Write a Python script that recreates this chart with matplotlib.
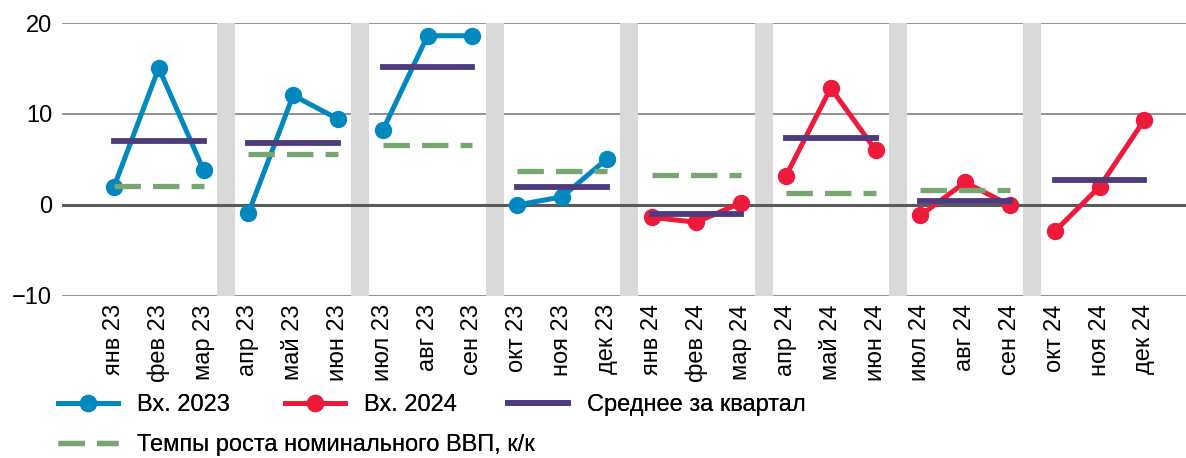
import numpy as np
import matplotlib.pyplot as plt
from matplotlib.lines import Line2D

plt.rcParams['font.family'] = ['Liberation Sans', 'DejaVu Sans']

# data
months = ['янв 23', 'фев 23', 'мар 23', 'апр 23', 'май 23', 'июн 23',
          'июл 23', 'авг 23', 'сен 23', 'окт 23', 'ноя 23', 'дек 23',
          'янв 24', 'фев 24', 'мар 24', 'апр 24', 'май 24', 'июн 24',
          'июл 24', 'авг 24', 'сен 24', 'окт 24', 'ноя 24', 'дек 24']
inflow_2023 = [2.0, 15.05, 3.85, -0.9, 12.05, 9.45, 8.2, 18.6, 18.6, 0.0, 0.9, 5.05]
inflow_2024 = [-1.35, -1.9, 0.25, 3.2, 12.85, 6.05, -1.15, 2.5, -0.05, -2.9, 2.0, 9.35]
quarter_avg = [7.0, 6.85, 15.15, 2.0, -1.0, 7.35, 0.45, 2.8]
gdp_qq = [2.05, 5.65, 6.55, 3.7, 3.35, 1.35, 1.6]

c_blue = '#0088bf'
c_red = '#ee1a3b'
c_purple = '#4d3b7d'
c_green = '#78a671'
c_band = '#d9d9d9'

fs = 17

fig = plt.figure(figsize=(11.86, 4.58), dpi=100)
ax = fig.add_axes([62 / 1186, 1 - 296 / 458, 1 - 62 / 1186, 273 / 458])

x = np.arange(len(months))

# grid
for yv in [-10, 10, 20]:
    ax.axhline(yv, color='#8a8a8a', lw=1.3, zorder=0.5)
ax.axhline(0, color='#5a5a5a', lw=2.2, zorder=2)

# grey separators between quarters
for q in range(1, 8):
    ax.axvspan(3 * q - 0.5 - 0.2, 3 * q - 0.5 + 0.2, ymin=0, ymax=1,
               color=c_band, lw=0, zorder=1)

line_kw = dict(lw=3.6, marker='o', ms=11.5, zorder=4, solid_capstyle='round')
for q in range(4):
    sl = slice(3 * q, 3 * q + 3)
    ax.plot(x[sl], inflow_2023[sl], color=c_blue, **line_kw)
    ax.plot(x[sl] + 12, inflow_2024[sl], color=c_red, **line_kw)

for q, v in enumerate(quarter_avg):
    ax.plot([3 * q, 3 * q + 2], [v, v], color=c_purple, lw=4.2,
            solid_capstyle='projecting', zorder=5)

for q, v in enumerate(gdp_qq):
    ln, = ax.plot([3 * q, 3 * q + 2], [v, v], color=c_green, lw=3.8, zorder=5,
                  dash_capstyle='butt')
    ln.set_dashes([5.0, 2.3])

ax.set_xlim(-1.16, 23.93)
ax.set_ylim(-10, 20)
ax.set_yticks([-10, 0, 10, 20])
ax.set_yticklabels(['\u221210', '0', '10', '20'])
ax.set_xticks(x)
ax.set_xticklabels(months, rotation=90)
ax.tick_params(axis='both', length=0, labelsize=fs, colors='black')
ax.tick_params(axis='x', pad=6)
ax.tick_params(axis='y', pad=7)
for s in ax.spines.values():
    s.set_visible(False)

# legend entries placed one by one
leg_kw = dict(frameon=False, fontsize=fs, handlelength=2.55, handletextpad=0.8,
              borderpad=0, borderaxespad=0, loc='center left')
entries = [
    (Line2D([], [], color=c_blue, lw=3.6, marker='o', ms=11.5), 'Вх. 2023', 58, 405),
    (Line2D([], [], color=c_red, lw=3.6, marker='o', ms=11.5), 'Вх. 2024', 285, 405),
    (Line2D([], [], color=c_purple, lw=4.2), 'Среднее за квартал', 508, 405),
    (Line2D([], [], color=c_green, lw=3.8, dashes=[5.0, 2.3]),
     'Темпы роста номинального ВВП, к/к', 58, 445),
]
for h, lab, px, py in entries:
    leg = fig.legend([h], [lab], bbox_to_anchor=(px / 1186, 1 - py / 458), **leg_kw)
    fig.add_artist(leg)

fig.savefig('out.png', dpi=100)
